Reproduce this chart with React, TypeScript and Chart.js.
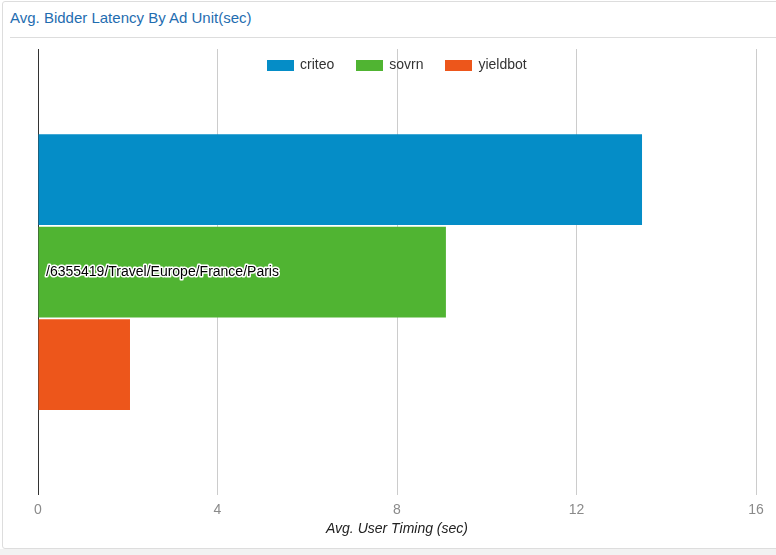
import React, { useEffect, useRef } from "react";
import { Chart, registerables } from "chart.js";

Chart.register(...registerables);

const categories = ["/6355419/Travel/Europe/France/Paris"];
const seriesNames = ["criteo", "sovrn", "yieldbot"];
const criteoValues = [13.46];
const sovrnValues = [9.09];
const yieldbotValues = [2.05];
const seriesColors = ["#058dc7", "#50b432", "#ed561b"];
const xTickMax = 16;
const xTickStep = 4;
const xAxisTitle = "Avg. User Timing (sec)";

const FONT = "'Liberation Sans', Arial, Helvetica, sans-serif";

const categoryLabelPlugin = {
  id: "categoryLabel",
  afterDatasetsDraw(chart: any) {
    const ctx = chart.ctx;
    const y = chart.scales.y;
    const area = chart.chartArea;
    ctx.save();
    ctx.font = `14px ${FONT}`;
    ctx.textBaseline = "middle";
    ctx.textAlign = "left";
    ctx.lineJoin = "round";
    categories.forEach((c, i) => {
      const py = y.getPixelForValue(i);
      const px = area.left + 8;
      ctx.strokeStyle = "#ffffff";
      ctx.lineWidth = 3;
      ctx.strokeText(c, px, py);
      ctx.fillStyle = "#000000";
      ctx.fillText(c, px, py);
    });
    ctx.restore();
  },
};

const topLegendPlugin = {
  id: "topLegend",
  beforeDatasetsDraw(chart: any) {
    const ctx = chart.ctx;
    const area = chart.chartArea;
    const boxW = 27;
    const boxH = 11;
    const gapBoxText = 6;
    const gapItems = 22;
    ctx.save();
    ctx.font = `14px ${FONT}`;
    const items = chart.data.datasets.map((d: any) => ({
      label: d.label,
      color: d.backgroundColor,
      w: boxW + gapBoxText + ctx.measureText(d.label).width,
    }));
    const total = items.reduce((s: number, it: any) => s + it.w, 0) + gapItems * (items.length - 1);
    let x = Math.round((area.left + area.right) / 2 - total / 2);
    const cy = area.top + 16.5;
    ctx.textBaseline = "middle";
    ctx.textAlign = "left";
    items.forEach((it: any) => {
      ctx.fillStyle = it.color;
      ctx.fillRect(Math.round(x), Math.round(cy - boxH / 2), boxW, boxH);
      ctx.fillStyle = "#333333";
      ctx.fillText(it.label, x + boxW + gapBoxText, cy);
      x += it.w + gapItems;
    });
    ctx.restore();
  },
};

export default function App() {
  const ref = useRef<HTMLCanvasElement | null>(null);
  useEffect(() => {
    if (!ref.current) return;
    const values = [criteoValues, sovrnValues, yieldbotValues];
    const chart = new Chart(ref.current, {
      type: "bar",
      data: {
        labels: categories,
        datasets: seriesNames.map((n, i) => ({
          label: n,
          data: values[i],
          backgroundColor: seriesColors[i],
          borderWidth: 0,
          categoryPercentage: 0.622,
          barPercentage: 0.98,
        })),
      },
      options: {
        indexAxis: "y",
        animation: false,
        responsive: false,
        maintainAspectRatio: false,
        layout: { padding: { left: 38, right: 20, top: 49, bottom: 29 } },
        plugins: {
          tooltip: { enabled: false },
          legend: { display: false },
        },
        scales: {
          x: {
            min: 0,
            max: xTickMax,
            ticks: {
              stepSize: xTickStep,
              color: "#8a8a8a",
              padding: 7,
              font: { family: FONT, size: 14 },
            },
            grid: {
              drawTicks: false,
              color: (ctx: any) => (ctx.tick && ctx.tick.value === 0 ? "#333333" : "#cccccc"),
            },
            border: { display: false },
          },
          y: {
            display: false,
          },
        },
      },
      plugins: [topLegendPlugin, categoryLabelPlugin],
    });
    return () => chart.destroy();
  }, []);

  return (
    <div
      style={{
        position: "fixed",
        left: 0,
        top: 0,
        width: 776,
        height: 555,
        background: "#ffffff",
        overflow: "hidden",
        fontFamily: FONT,
      }}
    >
      <div style={{ position: "absolute", left: 0, top: 549, width: 776, height: 6, background: "#f2f2f2" }} />
      <div
        style={{
          position: "absolute",
          left: 2,
          top: 1,
          width: 800,
          height: 546,
          border: "1px solid #dddddd",
          borderRadius: 3,
          background: "#ffffff",
        }}
      />
      <div
        style={{
          position: "absolute",
          left: 10,
          top: 9,
          fontSize: 15,
          color: "#1f6db0",
          lineHeight: "18px",
        }}
      >
        Avg. Bidder Latency By Ad Unit(sec)
      </div>
      <div style={{ position: "absolute", left: 10, top: 37, width: 800, height: 1, background: "#dddddd" }} />
      <canvas ref={ref} width={776} height={555} style={{ position: "absolute", left: 0, top: 0, width: 776, height: 555 }} />
      <div
        style={{
          position: "absolute",
          left: 38,
          width: 718,
          top: 519,
          height: 18,
          lineHeight: "18px",
          textAlign: "center",
          fontSize: 14,
          fontStyle: "italic",
          color: "#222222",
        }}
      >
        {xAxisTitle}
      </div>
    </div>
  );
}
